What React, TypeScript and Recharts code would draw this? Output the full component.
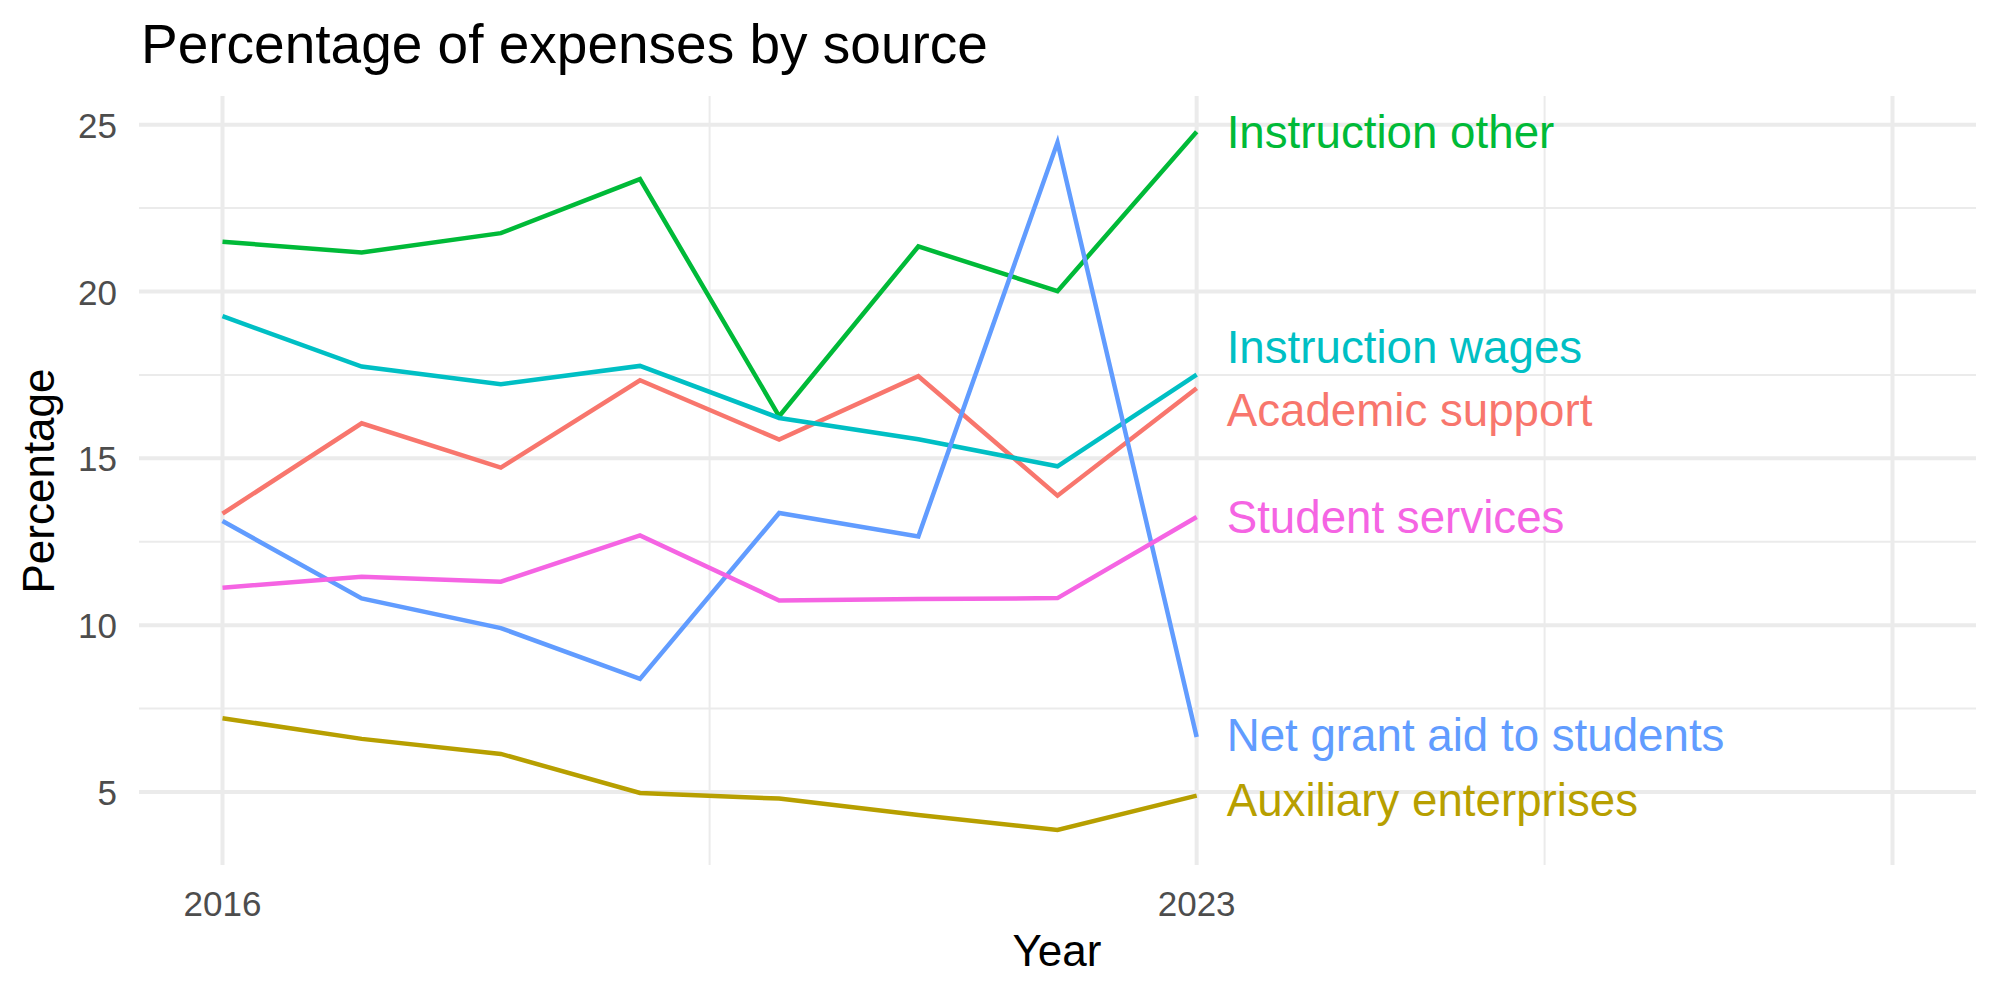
import { CartesianGrid, Line, LineChart, XAxis, YAxis } from "recharts";

const years = [2016, 2017, 2018, 2019, 2020, 2021, 2022, 2023];

const academicSupport = [13.34, 16.05, 14.72, 17.34, 15.56, 17.46, 13.88, 17.1];
const auxiliaryEnterprises = [7.21, 6.59, 6.14, 4.97, 4.8, 4.31, 3.86, 4.89];
const instructionOther = [21.49, 21.17, 21.75, 23.37, 16.26, 21.35, 20.01, 24.79];
const instructionWages = [19.26, 17.75, 17.22, 17.77, 16.21, 15.57, 14.76, 17.51];
const netGrantAid = [13.12, 10.8, 9.91, 8.39, 13.36, 12.66, 24.47, 6.65];
const studentServices = [11.12, 11.45, 11.3, 12.69, 10.74, 10.78, 10.81, 13.24];

const xTicks = [2016, 2023];
const xMajor = [2016, 2023, 2028];
const xMinor = [2019.5, 2025.5];
const yTicks = [5, 10, 15, 20, 25];
const yMinor = [7.5, 12.5, 17.5, 22.5];

const FONT = "'Liberation Sans', Arial, Helvetica, sans-serif";

// name, colour, values, vertical nudge of the end label (px) so they don't collide
const series = [
    { key: "academic", name: "Academic support", color: "#F8766D", values: academicSupport, shift: 22 },
    { key: "auxiliary", name: "Auxiliary enterprises", color: "#B79F00", values: auxiliaryEnterprises, shift: 4 },
    { key: "instrOther", name: "Instruction other", color: "#00BA38", values: instructionOther, shift: 0 },
    { key: "instrWages", name: "Instruction wages", color: "#00BFC4", values: instructionWages, shift: -28 },
    { key: "netGrant", name: "Net grant aid to students", color: "#619CFF", values: netGrantAid, shift: -2 },
    { key: "students", name: "Student services", color: "#F564E3", values: studentServices, shift: 0 },
];

const rows = years.map((year, i) => {
    const row: Record<string, number> = { year };
    series.forEach((s) => {
        row[s.key] = s.values[i];
    });
    return row;
});

function EndLabel(props: any) {
    const { x, y, index, text, color, shift } = props;
    if (index !== years.length - 1) return null;
    return (
        <text
            x={x + 30}
            y={y + shift}
            dy={16}
            fill={color}
            fontSize={45.7}
            fontFamily={FONT}
            textAnchor="start"
        >
            {text}
        </text>
    );
}

function XTick({ x, y, payload }: any) {
    return (
        <text x={x} y={y} dy={51} textAnchor="middle" fill="#4D4D4D" fontSize={35} fontFamily={FONT}>
            {payload.value}
        </text>
    );
}

function YTick({ x, y, payload }: any) {
    return (
        <text x={x - 22} y={y} dy={13} textAnchor="end" fill="#4D4D4D" fontSize={35} fontFamily={FONT}>
            {payload.value}
        </text>
    );
}

export default function App() {
    return (
        <div style={{ position: "absolute", left: 0, top: 0, width: 2000, height: 1000, background: "#fff" }}>
            <LineChart
                width={2000}
                height={1000}
                data={rows}
                margin={{ top: 96, right: 24, bottom: 0, left: 0 }}
            >
                <CartesianGrid
                    stroke="#EBEBEB"
                    strokeWidth={2}
                    horizontalValues={yMinor}
                    verticalValues={xMinor}
                />
                <CartesianGrid
                    stroke="#EBEBEB"
                    strokeWidth={4}
                    horizontalValues={yTicks}
                    verticalValues={xMajor}
                />
                <XAxis
                    dataKey="year"
                    type="number"
                    domain={[2015.4, 2028.6]}
                    ticks={xTicks}
                    height={135}
                    axisLine={false}
                    tickLine={false}
                    tickSize={0}
                    tickMargin={0}
                    tick={<XTick />}
                    interval={0}
                />
                <YAxis
                    type="number"
                    domain={[2.81, 25.86]}
                    ticks={yTicks}
                    width={139}
                    axisLine={false}
                    tickLine={false}
                    tickSize={0}
                    tickMargin={0}
                    tick={<YTick />}
                    interval={0}
                />
                {series.map((s) => (
                    <Line
                        key={s.key}
                        type="linear"
                        dataKey={s.key}
                        stroke={s.color}
                        strokeWidth={4.5}
                        dot={false}
                        activeDot={false}
                        isAnimationActive={false}
                        label={(p: any) => (
                            <EndLabel key={`${s.key}-${p.index}`} {...p} text={s.name} color={s.color} shift={s.shift} />
                        )}
                    />
                ))}
            </LineChart>
            <svg
                width={2000}
                height={1000}
                style={{ position: "absolute", left: 0, top: 0, pointerEvents: "none" }}
            >
                <text x={141} y={63} fontSize={55} fontFamily={FONT} fill="#000">
                    Percentage of expenses by source
                </text>
                <text x={1057} y={966} fontSize={44} fontFamily={FONT} fill="#000" textAnchor="middle">
                    Year
                </text>
                <text
                    x={54}
                    y={481}
                    fontSize={44}
                    fontFamily={FONT}
                    fill="#000"
                    textAnchor="middle"
                    transform="rotate(-90 54 481)"
                >
                    Percentage
                </text>
            </svg>
        </div>
    );
}
